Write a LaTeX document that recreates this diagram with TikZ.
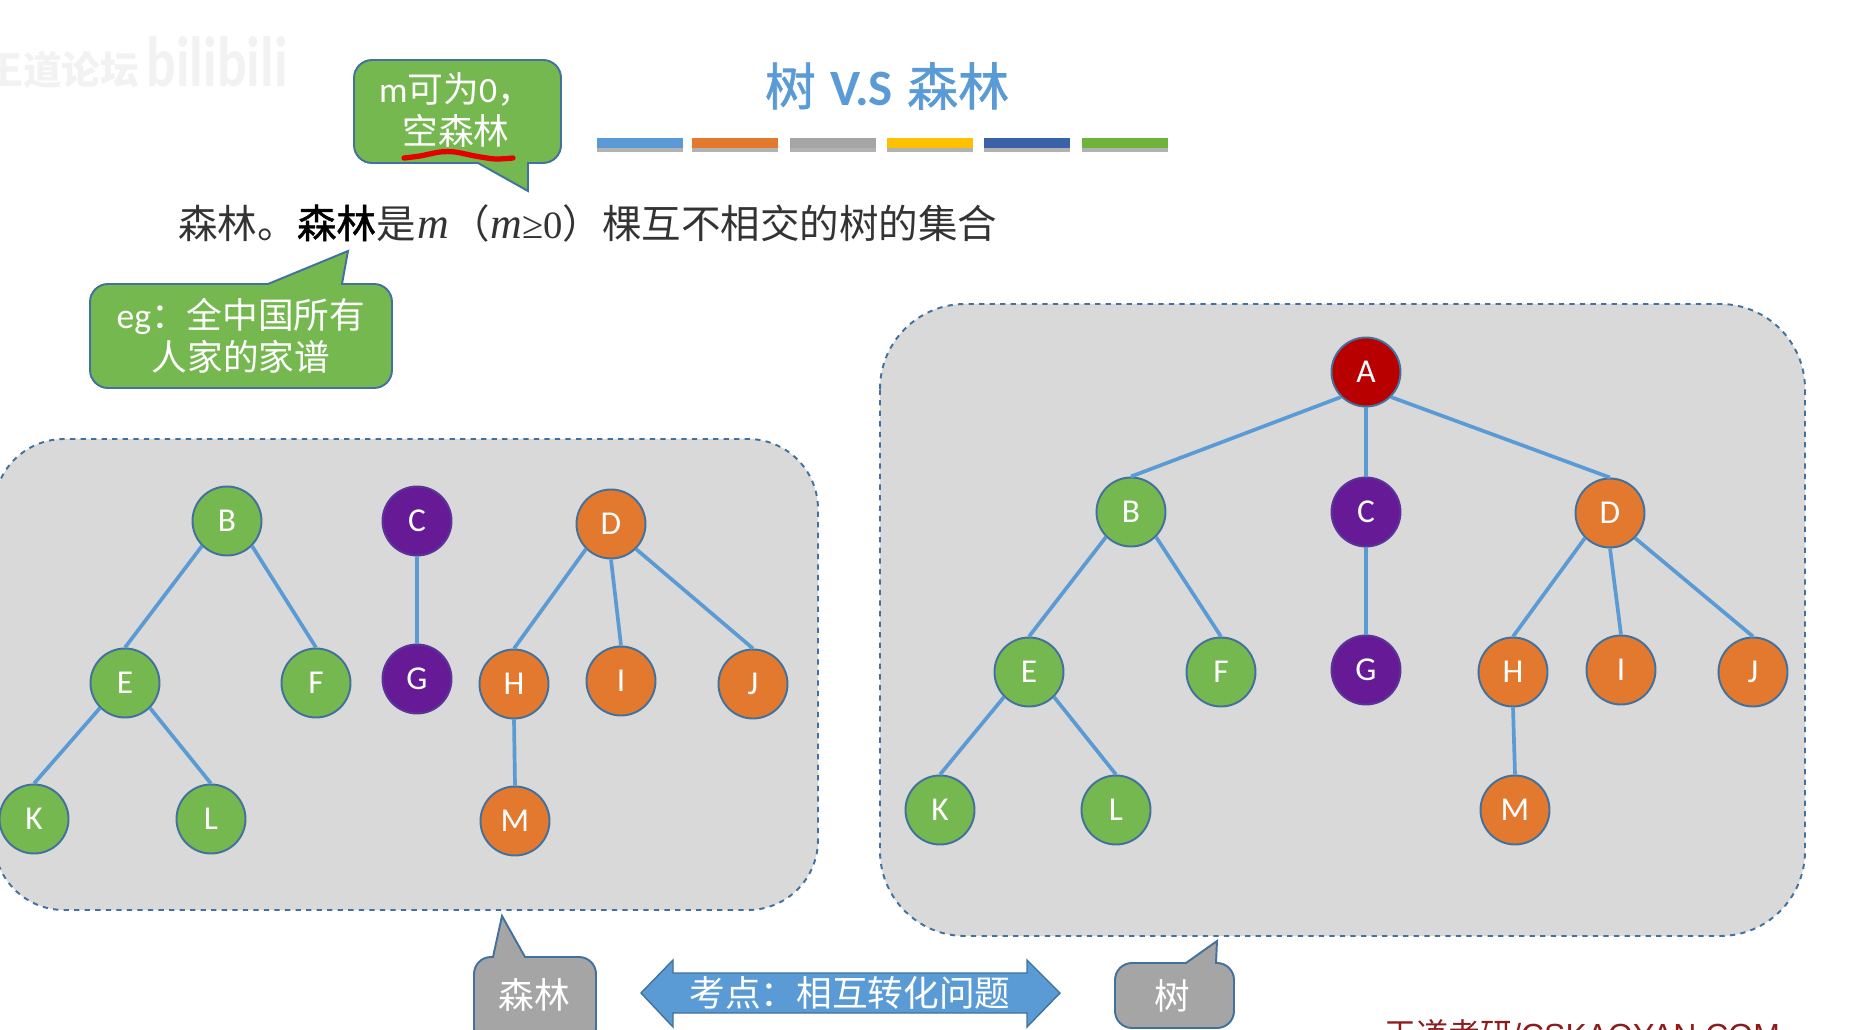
\documentclass[tikz,border=0pt]{standalone}
\usepackage{fontspec}
\setmainfont{Carlito}
\newfontfamily\cjk{Noto Sans CJK SC}
\newfontfamily\cjkdark[FakeBold=1.2]{Noto Sans CJK SC}
\newfontfamily\serifrm{Liberation Serif}
\newfontfamily\urlfont{Liberation Sans}
\usetikzlibrary{positioning,shadows}
\definecolor{Sky}{HTML}{5B9BD5}
\definecolor{Rim}{HTML}{41719C}
\definecolor{Leaf}{HTML}{75B84F}
\definecolor{Pumpkin}{HTML}{E2792F}
\definecolor{Grape}{HTML}{661A96}
\definecolor{Crimson}{HTML}{B80000}
\definecolor{Panel}{HTML}{D9D9D9}
\definecolor{Stone}{HTML}{A5A5A5}
\definecolor{Navy}{HTML}{3A62A8}
\definecolor{Sun}{HTML}{FFC000}
\definecolor{Grass}{HTML}{6FB33A}
\definecolor{Mark}{HTML}{8E1B1B}
\tikzset{
    knot/.style={circle,draw=Rim,line width=1.1pt,minimum size=1.38cm,inner sep=0pt,
      text=white,font=\fontsize{19}{20}\selectfont},
    greenknot/.style={knot,fill=Leaf},
    orangeknot/.style={knot,fill=Pumpkin},
    purpleknot/.style={knot,fill=Grape,draw=Grape!70!Rim},
    redknot/.style={knot,fill=Crimson},
    branch/.style={draw=Sky,line width=2.1pt},
    panelbox/.style={fill=Panel,draw=Rim,line width=1.1pt,dashed},
    balloon/.style={fill=Leaf,draw=Rim,line width=1.1pt},
    greyballoon/.style={fill=Stone,draw=Rim,line width=1.1pt},
    balloontext/.style={text=white,align=center,font=\fontsize{20.3}{24}\selectfont},
    colorbar/.style={minimum width=1.72cm,minimum height=0.2cm,inner sep=0pt,
      drop shadow={shadow xshift=0pt,shadow yshift=-2pt,fill=black,opacity=0.3}}
}
\begin{document}
\begin{tikzpicture}[x=0.02cm,y=-0.02cm]
    \useasboundingbox (0,0) rectangle (1853,1030);
    \clip (0,0) rectangle (1853,1030);

    \node[text=black!5,font=\fontsize{22}{24}\selectfont\bfseries] (mark) at (62,70) {\cjk 王道论坛};
    \node[text=black!5,font=\fontsize{30}{32}\selectfont\bfseries] (bili) at (217,62) {\scalebox{1.05}[1.35]{bilibili}};

    \node[text=Sky,font=\fontsize{29}{32}\selectfont] (title) at (887,86) {{\cjkdark 树}\hspace{1.5pt} \textbf{V.S}\hspace{1.5pt} {\cjkdark 森林}};
    \node[colorbar,fill=Sky] (bar1) at (640,143) {};
    \node[colorbar,fill=Pumpkin] (bar2) at (735,143) {};
    \node[colorbar,fill=Stone] (bar3) at (833,143) {};
    \node[colorbar,fill=Sun] (bar4) at (930,143) {};
    \node[colorbar,fill=Navy] (bar5) at (1027,143) {};
    \node[colorbar,fill=Grass] (bar6) at (1125,143) {};

    \draw[balloon] (528,163) -- (528,191) -- (478,163) [rounded corners=0.36cm] -- (354,163) -- (354,60) -- (561,60) -- (561,163) [sharp corners] -- cycle;
    \node[balloontext] (zero) at (456,110) {m{\cjk 可为}0{\cjk ，}\\{\cjk 空森林}};
    \draw[red!90!black,line width=3pt,line cap=round] plot[smooth] coordinates {(404,158) (420,156) (440,152) (455,152) (475,156) (495,159) (513,158)};

    \node[anchor=west,inner sep=0pt,text=black!80,font=\fontsize{22.5}{24}\selectfont] (define) at (178,223)
      {{\cjk 森林。}{\cjkdark\color{black}森林}{\cjk 是}\hspace{1pt}{\serifrm\fontsize{25}{26}\selectfont\itshape m}\hspace{1pt}{\cjk （}{\serifrm\fontsize{25}{26}\selectfont\itshape m}{\serifrm\fontsize{22}{26}\selectfont ≥0}{\cjk ）棵互不相交的树的集合}};

    \draw[balloon] (268,284) -- (348,251) -- (342,284) [rounded corners=0.36cm] -- (392,284) -- (392,388) -- (90,388) -- (90,284) [sharp corners] -- cycle;
    \node[balloontext] (family) at (241,336) {eg{\cjk ：全中国所有}\\{\cjk 人家的家谱}};

    \draw[panelbox] (-6,509) arc (180:270:70) -- (748,439) arc (-90:0:70) -- (818,840) arc (0:90:70) -- (64,910) arc (90:180:70) -- cycle;
    \draw[panelbox] (880,389) arc (180:270:85) -- (1720,304) arc (-90:0:85) -- (1805,851) arc (0:90:85) -- (965,936) arc (90:180:85) -- cycle;

    \node[greenknot] (lB) at (227,521) {B};
    \node[purpleknot] (lC) at (417,521) {C};
    \node[orangeknot] (lD) at (611,524) {D};
    \node[greenknot] (lE) at (125,683) {E};
    \node[greenknot] (lF) at (316,683) {F};
    \node[purpleknot] (lG) at (417,679) {G};
    \node[orangeknot] (lH) at (514,684) {H};
    \node[orangeknot] (lI) at (621,681) {I};
    \node[orangeknot] (lJ) at (753,684) {J};
    \node[greenknot] (lK) at (34,819) {K};
    \node[greenknot] (lL) at (211,819) {L};
    \node[orangeknot] (lM) at (515,821) {M};
    \draw[branch] (lB.south west) -- (lE.north);
    \draw[branch] (lB.south east) -- (lF.north);
    \draw[branch] (lE.south west) -- (lK.north);
    \draw[branch] (lE.south east) -- (lL.north);
    \draw[branch] (lC.south) -- (lG.north);
    \draw[branch] (lD.south west) -- (lH.north);
    \draw[branch] (lD.south) -- (lI.north);
    \draw[branch] (lD.south east) -- (lJ.north);
    \draw[branch] (lH.south) -- (lM.north);

    \node[redknot] (rA) at (1366,372) {A};
    \node[greenknot] (rB) at (1131,512) {B};
    \node[purpleknot] (rC) at (1366,512) {C};
    \node[orangeknot] (rD) at (1610,513) {D};
    \node[greenknot] (rE) at (1029,672) {E};
    \node[greenknot] (rF) at (1221,672) {F};
    \node[purpleknot] (rG) at (1366,670) {G};
    \node[orangeknot] (rH) at (1513,672) {H};
    \node[orangeknot] (rI) at (1621,670) {I};
    \node[orangeknot] (rJ) at (1753,672) {J};
    \node[greenknot] (rK) at (940,810) {K};
    \node[greenknot] (rL) at (1116,810) {L};
    \node[orangeknot] (rM) at (1515,810) {M};
    \draw[branch] (rA.south west) -- (rB.north);
    \draw[branch] (rA.south) -- (rC.north);
    \draw[branch] (rA.south east) -- (rD.north);
    \draw[branch] (rB.south west) -- (rE.north);
    \draw[branch] (rB.south east) -- (rF.north);
    \draw[branch] (rE.south west) -- (rK.north);
    \draw[branch] (rE.south east) -- (rL.north);
    \draw[branch] (rC.south) -- (rG.north);
    \draw[branch] (rD.south west) -- (rH.north);
    \draw[branch] (rD.south) -- (rI.north);
    \draw[branch] (rD.south east) -- (rJ.north);
    \draw[branch] (rH.south) -- (rM.north);

    \draw[greyballoon] (493,957) -- (502,916) -- (525,957) [rounded corners=0.34cm] -- (596,957) -- (596,1045) -- (474,1045) -- (474,957) [sharp corners] -- cycle;
    \node[balloontext] (forest) at (534,995) {\cjk 森林};

    \draw[greyballoon] (1186,963) -- (1217,941) -- (1216,963) [rounded corners=0.34cm] -- (1234,963) -- (1234,1028) -- (1115,1028) -- (1115,963) [sharp corners] -- cycle;
    \node[balloontext] (tree) at (1172,996) {\cjk 树};

    \fill[Sky,draw=Rim,line width=0.8pt] (641,993) -- (673,960) -- (673,973) -- (1027,973) -- (1027,960) -- (1060,993) -- (1027,1027) -- (1027,1013) -- (673,1013) -- (673,1027) -- cycle;
    \node[balloontext] (swap) at (850,993) {\cjk 考点：相互转化问题};

    \node[anchor=north west,text=Mark,font=\urlfont\fontsize{18.2}{24}\selectfont,inner sep=0pt] (site) at (1384,1019) {{\cjk 王道考研}/CSKAOYAN.COM};
  \end{tikzpicture}
\end{document}
